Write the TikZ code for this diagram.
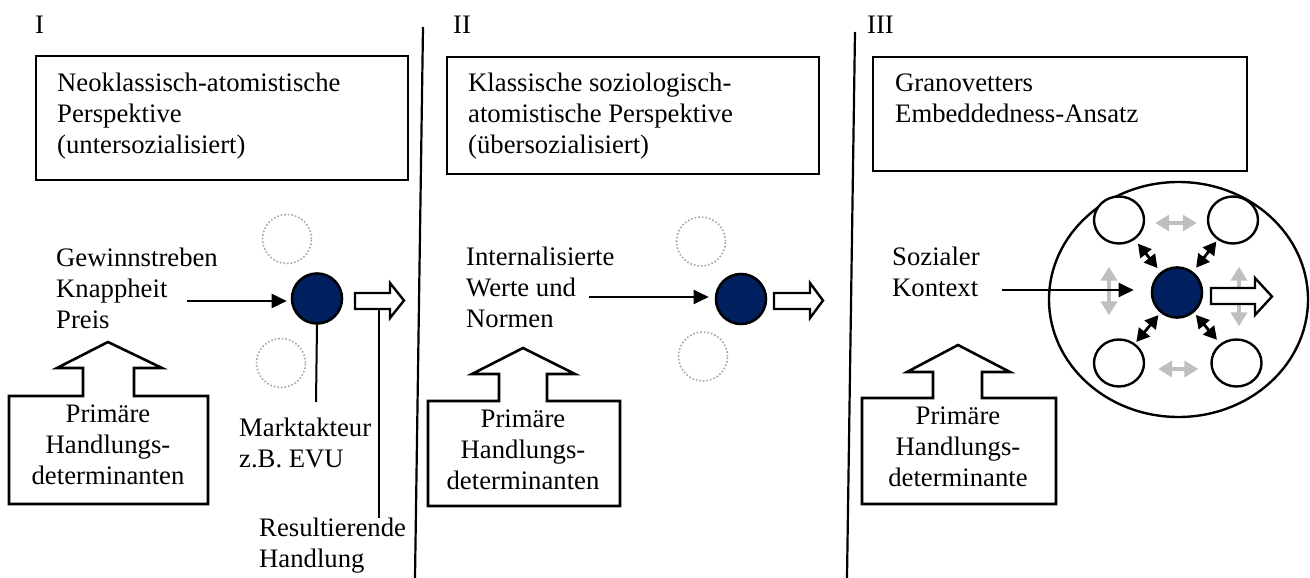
\documentclass[tikz,border=0pt]{standalone}
\usepackage{fontspec}
\setmainfont{Liberation Serif}
\usetikzlibrary{arrows.meta,shapes.geometric}
\definecolor{actor}{HTML}{002060}
\definecolor{faint}{HTML}{A6A6A6}
\definecolor{link}{HTML}{BFBFBF}

\begin{document}
\begin{tikzpicture}[x=1pt,y=-1pt,
  font=\fontsize{26.7}{30.7}\selectfont,
  % multi-line labels are placed by the baseline of their last line
  txt/.style={inner sep=0pt, anchor=base west, align=left},
  ctxt/.style={inner sep=0pt, anchor=base, align=center},
  frame/.style={draw, line width=2.6pt, line join=miter},
  actornode/.style={circle, draw, line width=2.6pt, fill=actor, minimum size=50pt, inner sep=0pt},
  ghost/.style={circle, draw=faint, dotted, line width=1.6pt, minimum size=49pt, inner sep=0pt},
  peer/.style={ellipse, draw, fill=white, line width=2.4pt, minimum width=50pt, minimum height=47pt, inner sep=0pt},
  feed/.style={-{Triangle[length=15pt,width=14pt]}, line width=2pt},
  stem/.style={line width=2pt},
  tie/.style={{Triangle[length=13pt,width=14pt]}-{Triangle[length=13pt,width=14pt]}, line width=2.8pt},
  weak/.style={{Triangle[length=14pt,width=16pt]}-{Triangle[length=14pt,width=16pt]}, line width=3.6pt, draw=link},
  outarrow/.style={draw, fill=white, line width=2.4pt, line join=miter},
  divider/.style={line width=2.2pt},
]
\useasboundingbox (0,0) rectangle (1310,578);

% ---------- dividers ----------
\draw[divider] (423,27) -- (415,578);
\draw[divider] (855,32) -- (847,578);

% ---------- panel I ----------
\node[txt] (n1) at (35,34) {I};
\draw[frame] (36,56) rectangle (408,180);
\node[txt] (t1) at (57,153) {Neoklassisch-atomistische\\Perspektive\\(untersozialisiert)};

\node[ghost] (g1a) at (287,239) {};
\node[ghost] (g1b) at (281,363) {};
\node[actornode] (a1) at (317,298.5) {};
\node[txt] (d1) at (56,328) {Gewinnstreben\\Knappheit\\Preis};
\coordinate (d1in) at (187,301);
\draw[feed, shorten >=4pt] (d1in) -- (d1in -| a1.west);

\coordinate (m1top) at (316,402);
\draw[stem] (a1.south) -- (m1top);
\node[txt] (m1) at (239,467) {Marktakteur\\z.B. EVU};

\draw[outarrow] (355,293) -- (390,293) -- (390,283) -- (404,300.5) -- (390,318) -- (390,309) -- (355,309) -- cycle;
\coordinate (r1top) at (379,310);
\coordinate (r1bot) at (379,518);
\draw[stem] (r1top) -- (r1bot);
\node[txt] (r1) at (259,567) {Resultierende\\Handlung};

\draw[frame] (9,504) -- (9,396) -- (83,396) -- (83,368) -- (57,368) -- (108,342) -- (162,368) -- (134,368) -- (134,396) -- (208,396) -- (208,504) -- cycle;
\node[ctxt] (p1txt) at (108,484) {Primäre\\Handlungs-\\determinanten};

% ---------- panel II ----------
\node[txt] (n2) at (453,34) {II};
\draw[frame] (447,57) rectangle (819,174);
\node[txt] (t2) at (468,153) {Klassische soziologisch-\\atomistische Perspektive\\(übersozialisiert)};

\node[ghost] (g2a) at (701,241.5) {};
\node[ghost] (g2b) at (703,356.5) {};
\node[actornode] (a2) at (741,299) {};
\node[txt] (d2) at (466,327) {Internalisierte\\Werte und\\Normen};
\coordinate (d2in) at (589,297);
\draw[feed, shorten >=6pt] (d2in) -- (d2in -| a2.west);

\draw[outarrow] (774,293) -- (810,293) -- (810,283) -- (823,300.5) -- (810,318) -- (810,309) -- (774,309) -- cycle;

\draw[frame] (428,506) -- (428,401) -- (499,401) -- (499,374) -- (472,374) -- (523,348) -- (575,374) -- (547,374) -- (547,401) -- (620,401) -- (620,506) -- cycle;
\node[ctxt] (p2txt) at (523,489) {Primäre\\Handlungs-\\determinanten};

% ---------- panel III ----------
\node[txt] (n3) at (867,34) {III};
\draw[frame] (873,57) rectangle (1247,171);
\node[txt] (t3) at (895,122) {Granovetters\\Embeddedness-Ansatz};

\node[ellipse, draw, line width=2.4pt, minimum width=259pt, minimum height=235pt, inner sep=0pt] (ctx) at (1178.5,299.5) {};
\node[peer] (q1) at (1119,220) {};
\node[peer] (q2) at (1233,220) {};
\node[peer] (q3) at (1119,363) {};
\node[peer] (q4) at (1236.5,363) {};
\node[actornode] (a3) at (1177,292.5) {};

% weak ties between the neighbours
\draw[weak, shorten <=10pt, shorten >=10pt] ([yshift=-3pt]q1.east) -- ([yshift=-3pt]q2.west);
\draw[weak, shorten <=13pt, shorten >=12pt] ([yshift=-6pt]q3.east) -- ([yshift=-6pt]q4.west);
\draw[weak, shorten <=22pt, shorten >=23pt] ([xshift=-10pt]q1.south) -- ([xshift=-10pt]q3.north);
\draw[weak, shorten <=22pt, shorten >=12pt] ([xshift=6pt]q2.south) -- ([xshift=2.5pt]q4.north);

% strong ties to the actor
\draw[tie, shorten <=5pt, shorten >=5pt] (q1) -- (a3);
\draw[tie, shorten <=2pt, shorten >=5pt] (q2) -- (a3);
\draw[tie, shorten <=2pt, shorten >=3pt] (q3) -- (a3);
\draw[tie, shorten <=5pt, shorten >=3pt] (q4) -- (a3);

\node[txt] (d3) at (892,296) {Sozialer\\Kontext};
\coordinate (d3in) at (1002,290);
\draw[feed, shorten >=17pt] (d3in) -- (d3in -| a3.west);

\draw[outarrow] (1211,288) -- (1255,288) -- (1255,278) -- (1272,296.5) -- (1255,315) -- (1255,304) -- (1211,304) -- cycle;

\draw[frame] (862,504) -- (862,398) -- (933,398) -- (933,372) -- (907,372) -- (958,345) -- (1010,372) -- (982,372) -- (982,398) -- (1056,398) -- (1056,504) -- cycle;
\node[ctxt] (p3txt) at (958,486) {Primäre\\Handlungs-\\determinante};
\end{tikzpicture}
\end{document}
